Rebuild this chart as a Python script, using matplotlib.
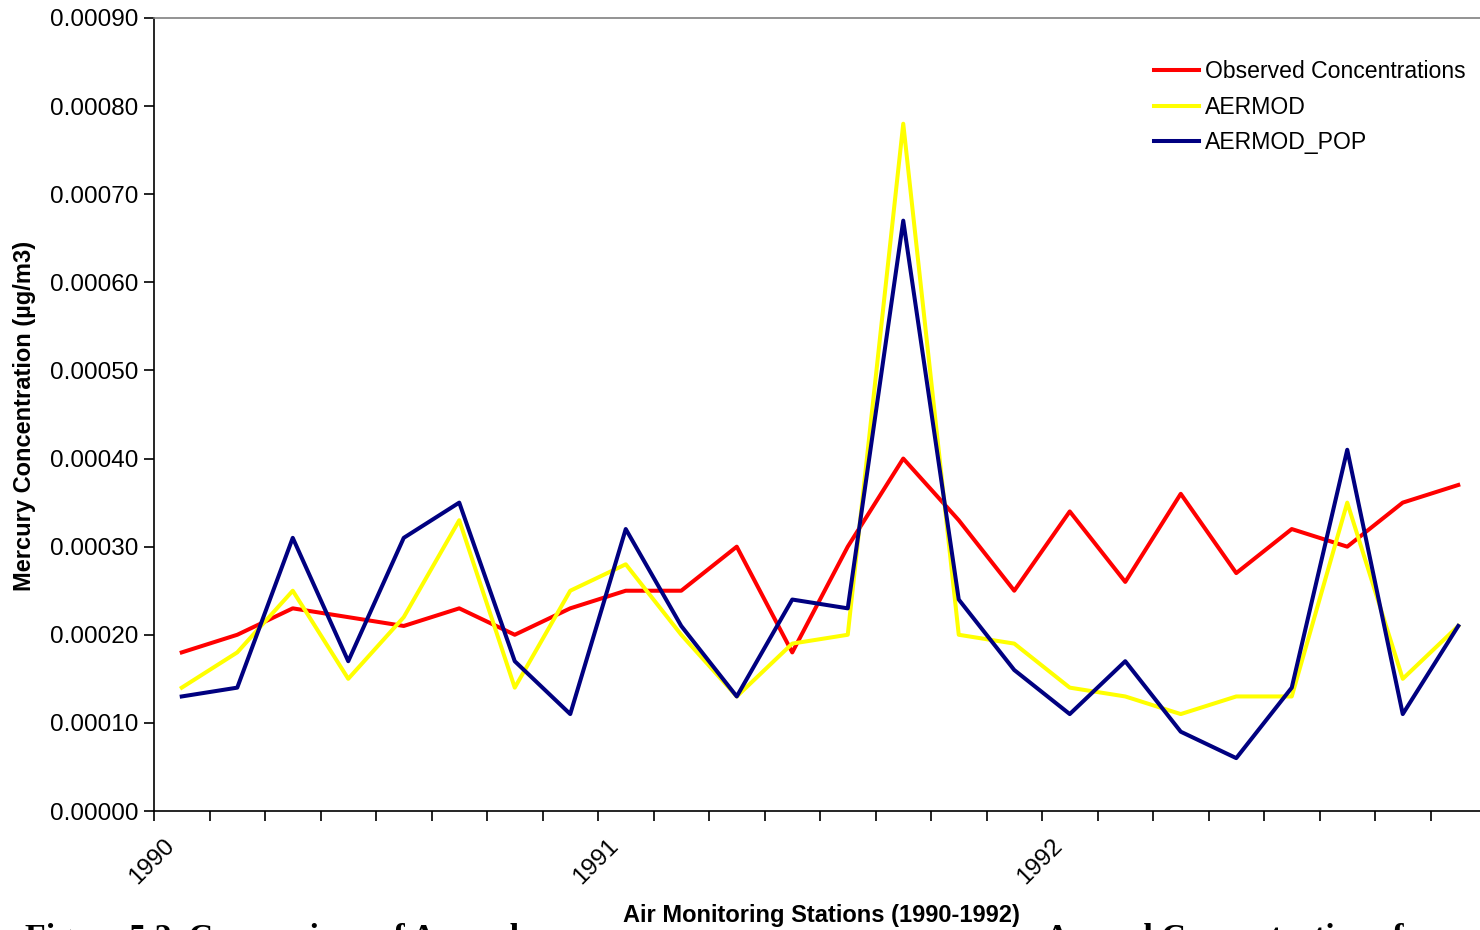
import matplotlib
matplotlib.use("Agg")
import matplotlib.pyplot as plt
import matplotlib.transforms as mtransforms
from matplotlib.ticker import FixedLocator, FormatStrFormatter

plt.rcParams['font.family'] = ['Liberation Sans', 'DejaVu Sans']

year_labels = ["1990", "1991", "1992"]
year_positions = [0, 8, 16]

observed = [1.8, 2.0, 2.3, 2.2, 2.1, 2.3, 2.0, 2.3, 2.5, 2.5, 3.0, 1.8,
            3.0, 4.0, 3.3, 2.5, 3.4, 2.6, 3.6, 2.7, 3.2, 3.0, 3.5, 3.7]
aermod = [1.4, 1.8, 2.5, 1.5, 2.2, 3.3, 1.4, 2.5, 2.8, 2.0, 1.3, 1.9,
          2.0, 7.8, 2.0, 1.9, 1.4, 1.3, 1.1, 1.3, 1.3, 3.5, 1.5, 2.1]
aermod_pop = [1.3, 1.4, 3.1, 1.7, 3.1, 3.5, 1.7, 1.1, 3.2, 2.1, 1.3, 2.4,
              2.3, 6.7, 2.4, 1.6, 1.1, 1.7, 0.9, 0.6, 1.4, 4.1, 1.1, 2.1]
scale = 1e-4
observed = [v * scale for v in observed]
aermod = [v * scale for v in aermod]
aermod_pop = [v * scale for v in aermod_pop]

W, H = 1480, 930
fig = plt.figure(figsize=(W / 100, H / 100), dpi=100)
ax = fig.add_axes([154 / W, 1 - 811 / H, (1486 - 154) / W, (811 - 18) / H])

x = list(range(len(observed)))
ax.plot(x, observed, color="#FF0000", lw=2.9, label="Observed Concentrations")
ax.plot(x, aermod, color="#FFFF00", lw=2.9, label="AERMOD")
ax.plot(x, aermod_pop, color="#000080", lw=2.9, label="AERMOD_POP")

ax.set_xlim(-0.5, len(observed) - 0.5)
ax.set_ylim(0, 0.0009)
ax.set_yticks([i * 0.0001 for i in range(10)])
ax.yaxis.set_major_formatter(FormatStrFormatter("%.5f"))

ax.set_xticks(year_positions)
ax.set_xticklabels(year_labels, rotation=45, ha="right", va="top",
                   rotation_mode="anchor", fontsize=17.5)
ax.tick_params(axis="x", which="major", length=0, pad=17)
ax.xaxis.set_minor_locator(FixedLocator([i - 0.5 for i in range(len(observed) + 1)]))
ax.tick_params(axis="x", which="minor", length=7, width=1.2, direction="out")
ax.tick_params(axis="y", length=7, width=1.2, direction="out", pad=4, labelsize=17.5)
off = mtransforms.ScaledTranslation(-18 / 100, 0, fig.dpi_scale_trans)
for lab in ax.get_xticklabels():
    lab.set_transform(lab.get_transform() + off)

ax.spines["right"].set_visible(False)
ax.spines["top"].set_color("#808080")
ax.spines["top"].set_linewidth(1.2)
ax.spines["left"].set_linewidth(1.2)
ax.spines["bottom"].set_linewidth(1.2)

fig.text(25 / W, 1 - 416 / H, "Mercury Concentration (µg/m3)", rotation=90,
         ha="center", va="center", fontsize=17, fontweight="bold")
fig.text(821 / W, 1 - 915 / H, "Air Monitoring Stations (1990-1992)",
         ha="center", va="center", fontsize=17, fontweight="bold")

leg = ax.legend(loc="upper left", bbox_to_anchor=(1154 / W, 1 - 60 / H),
                bbox_transform=fig.transFigure, frameon=False, fontsize=16.6,
                handlelength=1.95, handletextpad=0.25, labelspacing=0.55,
                borderpad=0, borderaxespad=0)

cap_kw = dict(fontsize=24.5, fontweight="bold", family=["Liberation Serif", "DejaVu Serif"],
              va="top", ha="left")
fig.text(25 / W, 1 - 923 / H, "Figure 5.2. Comparison of Annual", **cap_kw)
fig.text(1045 / W, 1 - 923 / H, "Annual Concentrations for", **cap_kw)

fig.savefig("out.png", dpi=100)
